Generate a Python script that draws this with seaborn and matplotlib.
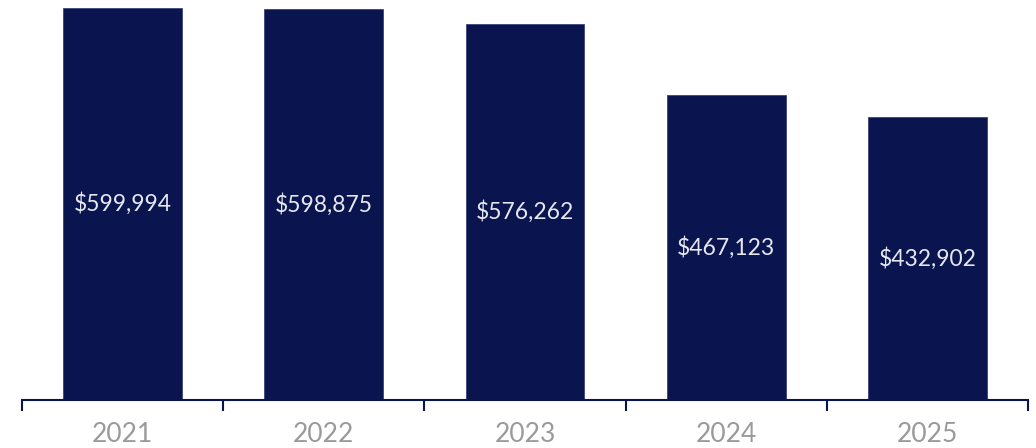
import matplotlib
matplotlib.use("Agg")
import matplotlib.pyplot as plt
import seaborn as sns
import pandas as pd

# ── Data ──────────────────────────────────────────────────────────────────────
years = ["2021", "2022", "2023", "2024", "2025"]
amounts = [599994, 598875, 576262, 467123, 432902]

_BAR = "#0a144f"

df = pd.DataFrame({"year": years, "amount": amounts})

sns.set_style("white")
plt.rcParams["font.family"] = ["Lato", "DejaVu Sans"]

fig = plt.figure(figsize=(10.36, 4.48), dpi=100)
ax = fig.add_axes([22 / 1036, 48 / 448, 1006 / 1036, 400 / 448])

sns.barplot(data=df, x="year", y="amount", color=_BAR, saturation=1,
            width=0.59, ax=ax, edgecolor="#3a4478", linewidth=0.6)

ax.set_xlim(-0.5, 4.5)
ax.set_ylim(0, max(amounts) * 400 / 392)

# value labels in the middle of each bar
for i, v in enumerate(amounts):
    ax.text(i, v / 2, f"${v:,}", ha="center", va="center",
            color="#e6e8f0", fontsize=16.5, fontweight="normal")

for side in ["top", "right", "left"]:
    ax.spines[side].set_visible(False)
ax.spines["bottom"].set_color(_BAR)
ax.spines["bottom"].set_linewidth(1.5)

ax.set_yticks([])
ax.set_xticks([i - 0.5 for i in range(6)], minor=True)
ax.tick_params(axis="x", which="minor", bottom=True, length=8, width=1.5,
               color=_BAR, direction="out")
ax.tick_params(axis="x", which="major", bottom=False, length=0, pad=16,
               labelsize=19, labelcolor="#9a9a9a")
ax.set_xlabel("")
ax.set_ylabel("")

fig.savefig("out.png", dpi=100)
